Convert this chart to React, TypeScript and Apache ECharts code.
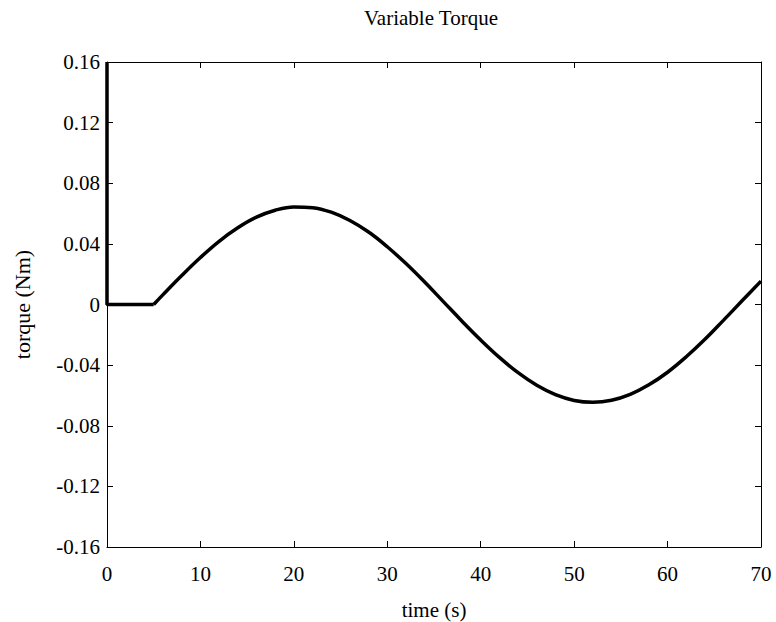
import React, { useEffect, useRef } from "react";
import * as echarts from "echarts";

// Time samples (s) and torque values (Nm)
const startTime: number[] = [0, 0, 5];
const startTorque: number[] = [0.16, 0, 0];
const timeS: number[] = [5, 6, 8, 10, 12, 14, 16, 18, 20, 22, 24, 26, 28, 30, 32, 34, 36, 38, 40, 42, 44, 46, 48, 50, 52, 54, 56, 58, 60, 62, 64, 66, 68, 70];
const torqueNm: number[] = [0, 0.0065, 0.0191, 0.031, 0.0417, 0.0506, 0.0576, 0.0622, 0.0644, 0.0639, 0.0609, 0.0554, 0.0478, 0.0381, 0.027, 0.0148, 0.0019, -0.011, -0.0234, -0.0349, -0.045, -0.0533, -0.0595, -0.0633, -0.0645, -0.0632, -0.0593, -0.053, -0.0447, -0.0345, -0.023, -0.0103, 0.0026, 0.0154];

const xTicks = { min: 0, max: 70, interval: 10 };
const yTicks = { min: -0.16, max: 0.16, interval: 0.04 };

const titleText = "Variable Torque";
const xName = "time (s)";
const yName = "torque (Nm)";

const FONT = "Liberation Serif";

export default function App() {
  const ref = useRef<HTMLDivElement>(null);
  useEffect(() => {
    document.body.style.margin = "0";
    if (!ref.current) return;
    const chart = echarts.init(ref.current, null, { renderer: "svg" });
    const startData = startTime.map((t, i) => [t, startTorque[i]]);
    const data = timeS.map((t, i) => [t, torqueNm[i]]);
    const tick = { show: true, inside: true, length: 6, lineStyle: { color: "#000", width: 1 } };
    const line = { show: true, onZero: false, lineStyle: { color: "#000", width: 1 } };
    chart.setOption({
      animation: false,
      backgroundColor: "#fff",
      textStyle: { fontFamily: FONT },
      title: {
        text: titleText,
        left: 364,
        top: 7,
        padding: 0,
        textStyle: { fontFamily: FONT, fontSize: 21, fontWeight: "normal", color: "#000" },
      },
      grid: { left: 107, right: 15, top: 62, bottom: 75, containLabel: false, outerBoundsMode: "none" },
      xAxis: [
        {
          type: "value",
          position: "bottom",
          ...xTicks,
          axisLine: line,
          axisTick: tick,
          splitLine: { show: false },
          axisLabel: { fontFamily: FONT, fontSize: 21, color: "#000", margin: 16 },
          name: xName,
          nameLocation: "middle",
          nameGap: 52,
          nameTextStyle: { fontFamily: FONT, fontSize: 21, color: "#000" },
        },
        {
          type: "value",
          position: "top",
          ...xTicks,
          axisLine: line,
          axisTick: tick,
          splitLine: { show: false },
          axisLabel: { show: false },
        },
      ],
      yAxis: [
        {
          type: "value",
          position: "left",
          ...yTicks,
          axisLine: line,
          axisTick: tick,
          splitLine: { show: false },
          axisLabel: { fontFamily: FONT, fontSize: 21, color: "#000", margin: 7 },
          name: yName,
          nameLocation: "middle",
          nameGap: 74,
          nameRotate: 90,
          nameTextStyle: { fontFamily: FONT, fontSize: 22, color: "#000" },
        },
        {
          type: "value",
          position: "right",
          ...yTicks,
          axisLine: line,
          axisTick: tick,
          splitLine: { show: false },
          axisLabel: { show: false },
        },
      ],
      series: [
        {
          type: "line",
          xAxisIndex: 0,
          yAxisIndex: 0,
          data: startData,
          showSymbol: false,
          clip: true,
          lineStyle: { color: "#000", width: 3.5 },
        },
        {
          type: "line",
          xAxisIndex: 0,
          yAxisIndex: 0,
          data,
          showSymbol: false,
          smooth: 0.4,
          clip: true,
          lineStyle: { color: "#000", width: 3.5 },
        },
      ],
    });
    return () => chart.dispose();
  }, []);
  return <div ref={ref} style={{ width: 776, height: 622 }} />;
}
